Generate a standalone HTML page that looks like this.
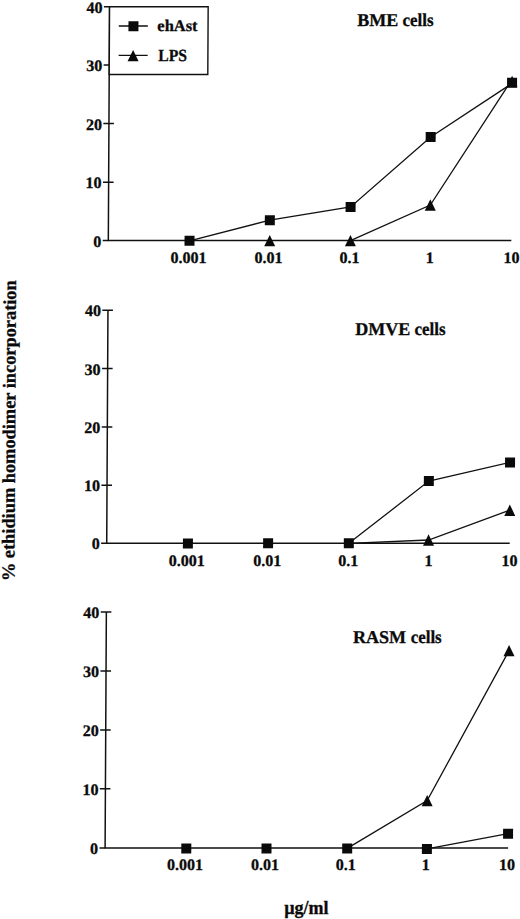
<!DOCTYPE html>
<html><head><meta charset="utf-8"><style>
html,body{margin:0;padding:0;background:#fff;width:520px;height:919px;overflow:hidden}
svg{display:block}
text{font-family:"Liberation Serif",serif;font-weight:bold;fill:#0a0a0a;stroke:#0a0a0a;stroke-width:0.3px}
.yl{font-size:16px;text-anchor:end}
.xl{font-size:16px;text-anchor:middle}
.tt{font-size:18px}
.lt{font-size:16.2px}
.ax{fill:none;stroke:#111;stroke-width:1.5}
.dl{fill:none;stroke:#111;stroke-width:1.3}
.lg{fill:#fff;stroke:#111;stroke-width:1.4}
rect,path{fill:#0a0a0a}
</style></head><body>
<svg width="520" height="919" viewBox="0 0 520 919">
<g transform="matrix(1,0,-0.0053,1,0,0)">
<path class="ax" d="M109.6,6.80V240.50H512.6"/>
<path class="ax" d="M104.00,240.50H109.60"/>
<text class="yl" x="102.6" y="246.70">0</text>
<path class="ax" d="M104.00,182.20H114.60"/>
<text class="yl" x="102.6" y="188.40">10</text>
<path class="ax" d="M104.00,123.40H114.60"/>
<text class="yl" x="102.6" y="129.60">20</text>
<path class="ax" d="M104.00,64.90H114.60"/>
<text class="yl" x="102.6" y="71.10">30</text>
<path class="ax" d="M104.00,6.80H114.60"/>
<text class="yl" x="102.6" y="13.00">40</text>
<text class="xl" x="189.80" y="263.30">0.001</text>
<text class="xl" x="270.00" y="263.30">0.01</text>
<text class="xl" x="350.90" y="263.30">0.1</text>
<text class="xl" x="431.10" y="263.30">1</text>
<text class="xl" x="512.90" y="263.30">10</text>
<text class="tt" x="357.3" y="26.30">BME</text>
<text class="tt" x="402.7" y="26.30" textLength="31" lengthAdjust="spacingAndGlyphs">cells</text>
<path class="dl" d="M190.80,240.80 L271.00,220.20 L351.70,207.00 L431.40,136.90 L508.00,86.40"/>
<path class="dl" d="M351.70,240.60 L431.40,205.00 L508.00,86.40"/>
<path d="M271.00,234.90L276.50,246.30L265.50,246.30Z"/>
<path d="M351.70,234.90L357.20,246.30L346.20,246.30Z"/>
<path d="M431.40,199.30L436.90,210.70L425.90,210.70Z"/>
<path d="M512.50,75.80L518.00,87.20L507.00,87.20Z"/>
<rect x="185.80" y="235.80" width="10.0" height="10.0"/>
<rect x="266.00" y="215.20" width="10.0" height="10.0"/>
<rect x="346.70" y="202.00" width="10.0" height="10.0"/>
<rect x="426.40" y="131.90" width="10.0" height="10.0"/>
<rect x="507.50" y="77.70" width="10.0" height="10.0"/>
<rect class="lg" x="109.6" y="6.8" width="98.60" height="67.7"/>
<path class="dl" d="M118.9,26.0H148.0M118.9,55.3H148.0"/>
<rect x="128.60" y="21.30" width="10.0" height="10.0"/>
<path d="M133.40,49.90L138.90,61.30L127.90,61.30Z"/>
<text class="lt" x="157.5" y="31.4" textLength="40.2" lengthAdjust="spacingAndGlyphs">ehAst</text>
<text class="lt" x="158.6" y="61.0" style="font-size:17px" textLength="28.7" lengthAdjust="spacingAndGlyphs">LPS</text>
<path class="ax" d="M109.6,310.30V543.30H512.6"/>
<path class="ax" d="M104.00,543.30H109.60"/>
<text class="yl" x="102.6" y="549.50">0</text>
<path class="ax" d="M104.00,485.30H114.60"/>
<text class="yl" x="102.6" y="491.50">10</text>
<path class="ax" d="M104.00,427.10H114.60"/>
<text class="yl" x="102.6" y="433.30">20</text>
<path class="ax" d="M104.00,368.60H114.60"/>
<text class="yl" x="102.6" y="374.80">30</text>
<path class="ax" d="M104.00,310.30H114.60"/>
<text class="yl" x="102.6" y="316.50">40</text>
<text class="xl" x="189.80" y="566.50">0.001</text>
<text class="xl" x="270.20" y="566.50">0.01</text>
<text class="xl" x="351.20" y="566.50">0.1</text>
<text class="xl" x="431.40" y="566.50">1</text>
<text class="xl" x="512.50" y="566.50">10</text>
<text class="tt" x="357.1" y="335.30">DMVE</text>
<text class="tt" x="416.29999999999995" y="335.30" textLength="31" lengthAdjust="spacingAndGlyphs">cells</text>
<path class="dl" d="M351.70,543.30 L431.40,481.10 L512.50,462.40"/>
<path class="dl" d="M351.70,543.30 L431.40,540.00 L512.50,510.20"/>
<path d="M431.40,534.30L436.90,545.70L425.90,545.70Z"/>
<path d="M512.50,504.50L518.00,515.90L507.00,515.90Z"/>
<rect x="185.80" y="538.50" width="10.0" height="10.0"/>
<rect x="266.00" y="538.30" width="10.0" height="10.0"/>
<rect x="346.70" y="538.30" width="10.0" height="10.0"/>
<rect x="426.40" y="476.10" width="10.0" height="10.0"/>
<rect x="507.50" y="457.40" width="10.0" height="10.0"/>
<path class="ax" d="M109.6,612.00V848.10H512.6"/>
<path class="ax" d="M104.00,848.10H109.60"/>
<text class="yl" x="102.6" y="854.30">0</text>
<path class="ax" d="M104.00,788.80H114.60"/>
<text class="yl" x="102.6" y="795.00">10</text>
<path class="ax" d="M104.00,730.10H114.60"/>
<text class="yl" x="102.6" y="736.30">20</text>
<path class="ax" d="M104.00,671.00H114.60"/>
<text class="yl" x="102.6" y="677.20">30</text>
<path class="ax" d="M104.00,612.00H114.60"/>
<text class="yl" x="102.6" y="618.20">40</text>
<text class="xl" x="189.50" y="870.30">0.001</text>
<text class="xl" x="269.50" y="870.30">0.01</text>
<text class="xl" x="350.40" y="870.30">0.1</text>
<text class="xl" x="430.40" y="870.30">1</text>
<text class="xl" x="511.70" y="870.30">10</text>
<text class="tt" x="356.4" y="643.00">RASM</text>
<text class="tt" x="414.09999999999997" y="643.00" textLength="31" lengthAdjust="spacingAndGlyphs">cells</text>
<path class="dl" d="M431.40,848.90 L431.40,848.90 L512.50,833.70"/>
<path class="dl" d="M351.70,848.40 L431.40,800.60 L512.50,650.60"/>
<path d="M431.40,794.90L436.90,806.30L425.90,806.30Z"/>
<path d="M512.50,644.90L518.00,656.30L507.00,656.30Z"/>
<rect x="185.80" y="843.60" width="10.0" height="10.0"/>
<rect x="266.00" y="843.60" width="10.0" height="10.0"/>
<rect x="346.70" y="843.60" width="10.0" height="10.0"/>
<rect x="426.40" y="843.90" width="10.0" height="10.0"/>
<rect x="507.50" y="828.70" width="10.0" height="10.0"/>
<text x="0" y="0" transform="translate(17.5,581.1) rotate(-90)" style="font-size:18.35px">% ethidium homodimer incorporation</text>
</g>
<text x="284.2" y="913.5" style="font-size:18px">µg/ml</text>
</svg>
</body></html>
